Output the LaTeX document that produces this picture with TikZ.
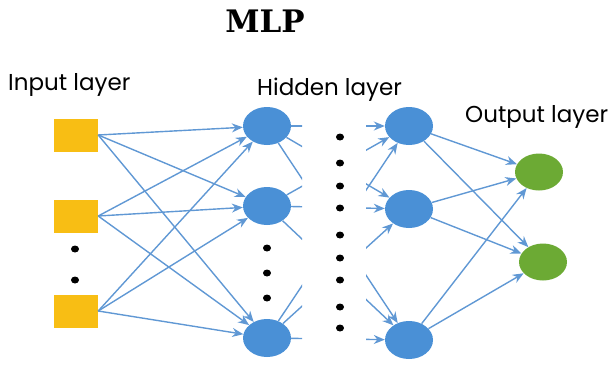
\documentclass[tikz,border=0pt]{standalone}
\usepackage{fontspec}
\setmainfont{Poppins}
\newfontfamily\titlefont{DejaVu Serif}
\usetikzlibrary{shapes.geometric, arrows.meta}

\definecolor{sqcol}{RGB}{248,190,20}
\definecolor{hidcol}{RGB}{74,144,214}
\definecolor{outcol}{RGB}{108,170,52}
\definecolor{edgecol}{RGB}{96,152,212}

\begin{document}
\begin{tikzpicture}[
    x=1pt, y=-1pt,
    sq/.style={rectangle, fill=sqcol, minimum width=44pt, minimum height=33pt, inner sep=0pt},
    hid/.style={ellipse, fill=hidcol, minimum width=48pt, minimum height=38pt, inner sep=0pt},
    outn/.style={ellipse, fill=outcol, minimum width=48pt, minimum height=37pt, inner sep=0pt},
    dt/.style={ellipse, fill=black, minimum width=8pt, minimum height=7pt, inner sep=0pt},
    lbl/.style={anchor=base west, font=\fontsize{23}{26}\selectfont, inner sep=0pt},
    a/.style={-{Stealth[length=11pt, width=9pt]}, edgecol, line width=1.4pt},
    s/.style={edgecol, line width=1.4pt},
]
\useasboundingbox (0,0) rectangle (611,365);

% Title and labels
\node[font=\titlefont\bfseries\fontsize{31}{33}\selectfont] (title) at (265,21) {MLP};
\node[lbl] (inlbl) at (8,90) {Input layer};
\node[lbl] (hidlbl) at (257,95) {Hidden layer};
\node[lbl] (outlbl) at (465,122) {Output layer};

% Input
\node[sq] (in1) at (76,135) {};
\node[sq] (in2) at (76,216) {};
\node[sq] (in3) at (76,311) {};
\node[dt] (di1) at (75,249) {};
\node[dt] (di2) at (75,280) {};

% Hidden
\node[hid] (h1) at (267,126) {};
\node[hid] (h2) at (267,206) {};
\node[hid] (h3) at (267,338) {};
\node[dt] (dh1) at (267,248) {};
\node[dt] (dh2) at (267,273) {};
\node[dt] (dh3) at (267,298) {};

\node[hid] (k1) at (409,126) {};
\node[hid] (k2) at (409,209) {};
\node[hid] (k3) at (409,340) {};

% Dots between hidden layers
\node[dt] (dm1) at (340,137) {};
\node[dt] (dm2) at (340,163) {};
\node[dt] (dm3) at (340,186) {};
\node[dt] (dm4) at (340,208) {};
\node[dt] (dm5) at (340,235) {};
\node[dt] (dm6) at (340,258) {};
\node[dt] (dm7) at (340,280) {};
\node[dt] (dm8) at (340,307) {};
\node[dt] (dm9) at (340,328) {};

% Output
\node[outn] (o1) at (539,172) {};
\node[outn] (o2) at (543,262) {};

% Arrows
\draw[a] (in1.east) -- (h1);
\draw[a] (in1.east) -- (h2);
\draw[a] (in1.east) -- (h3);
\draw[a] (in2.east) -- (h1);
\draw[a] (in2.east) -- (h2);
\draw[a] (in2.east) -- (h3);
\draw[a] (in3.east) -- (h1);
\draw[a] (in3.east) -- (h2);
\draw[a] (in3.east) -- (h3);

% Stubs between hidden layers
\begin{scope}
    \clip (240,0) rectangle (302,365);
    \draw[s] (h1) -- (k1);
    \draw[s] (h1) -- (k2);
    \draw[s] (h1) -- (k3);
    \draw[s] (h2) -- (k1);
    \draw[s] (h2) -- (k2);
    \draw[s] (h2) -- (k3);
    \draw[s] (h3) -- (k1);
    \draw[s] (h3) -- (k2);
    \draw[s] (h3) -- (k3);
\end{scope}
\begin{scope}
    \clip (366,0) rectangle (440,365);
    \draw[a] (h1) -- (k1);
    \draw[a] (h1) -- (k2);
    \draw[a] (h1) -- (k3);
    \draw[a] (h2) -- (k1);
    \draw[a] (h2) -- (k2);
    \draw[a] (h2) -- (k3);
    \draw[a] (h3) -- (k1);
    \draw[a] (h3) -- (k2);
    \draw[a] (h3) -- (k3);
\end{scope}

\draw[a] (k1) -- (o1);
\draw[a] (k1) -- (o2);
\draw[a] (k2) -- (o1);
\draw[a] (k2) -- (o2);
\draw[a] (k3) -- (o1);
\draw[a] (k3) -- (o2);
\end{tikzpicture}
\end{document}
